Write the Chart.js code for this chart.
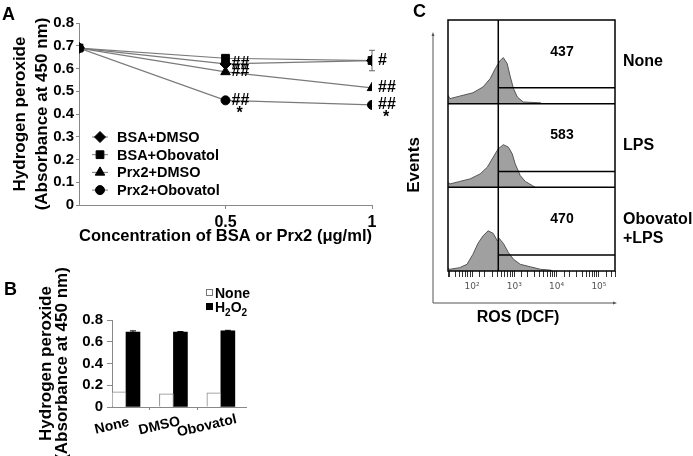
<!DOCTYPE html>
<html>
<head>
<meta charset="utf-8">
<script src="https://cdn.jsdelivr.net/npm/chart.js@4.4.1/dist/chart.umd.min.js"></script>
<style>
  body { margin: 0; background: #fff; width: 693px; height: 456px; position: relative; overflow: hidden;
         font-family: "Liberation Sans", Arial, sans-serif; }
  canvas { position: absolute; }
  .panel { position: absolute; font-weight: bold; font-size: 18px; line-height: 18px; }
</style>
</head>
<body>
<canvas id="chartA" width="400" height="250" style="left:0;top:0"></canvas>
<canvas id="chartB" width="260" height="201" style="left:0;top:255px"></canvas>
<canvas id="chartC" width="313" height="340" style="left:380px;top:0"></canvas>
<div class="panel" style="left:2px;top:5px">A</div>
<div class="panel" style="left:4px;top:280px">B</div>
<div class="panel" style="left:413px;top:2px">C</div>
<script>
// ---- panel A : H2O2 vs protein concentration
const conc = [0, 0.5, 1];
const bsaDmso = [0.69, 0.62, 0.635];
const bsaObovatol = [0.69, 0.645, 0.635];
const prx2Dmso = [0.69, 0.585, 0.515];
const prx2Obovatol = [0.69, 0.46, 0.44];
const bsaObovatolErr = [0, 0, 0.045];
const seriesNames = ['BSA+DMSO', 'BSA+Obovatol', 'Prx2+DMSO', 'Prx2+Obovatol'];
const seriesMarkers = ['rectRot', 'rect', 'triangle', 'circle'];
const seriesRadius = [5.5, 5.5, 5.5, 4.5];
const sigMarks = [
  { series: 0, point: 1, hash: '##', star: false },
  { series: 2, point: 1, hash: '##', star: false },
  { series: 3, point: 1, hash: '##', star: true },
  { series: 1, point: 2, hash: '#', star: false },
  { series: 2, point: 2, hash: '##', star: false },
  { series: 3, point: 2, hash: '##', star: true }
];

// ---- panel B : control bars
const groups = ['None', 'DMSO', 'Obovatol'];
const noneVals = [0.14, 0.12, 0.13];
const h2o2Vals = [0.69, 0.69, 0.70];
const h2o2Err = [0.01, 0.004, 0.005];

// ---- panel C : DCF histograms (intensity, % of panel height)
const noneX = [27, 30, 51, 105, 182, 269, 355, 468, 550, 676, 794, 955, 1175, 1622, 4169, 4467];
const noneY = [10, 6, 9, 13, 20, 30, 42, 52, 55, 48, 33, 18, 8, 2, 1, 0];
const lpsX = [27, 30, 51, 89, 155, 229, 316, 417, 550, 724, 891, 1047, 1380, 1820, 2692, 3162];
const lpsY = [6, 4, 7, 10, 16, 24, 36, 46, 51, 48, 40, 28, 14, 7, 2, 0];
const oboX = [27, 30, 51, 76, 105, 138, 182, 240, 316, 398, 437, 550, 724, 955, 1380, 2399, 4169, 7244, 8000];
const oboY = [3, 2, 4, 8, 20, 33, 42, 48, 45, 36, 39, 33, 22, 14, 8, 5, 2, 1, 0];
const sampleNames = ['None', 'LPS', ['Obovatol', '+LPS']];
const gateCounts = ['437', '583', '470'];
const gateStart = 417;
const gateLevel = 19;

Chart.defaults.font.family = '"Liberation Sans", Arial, Helvetica, sans-serif';
Chart.defaults.font.weight = 'bold';
Chart.defaults.color = '#000';
Chart.defaults.animation = false;
Chart.defaults.plugins.legend.display = false;
Chart.defaults.plugins.tooltip.enabled = false;

const FONT = '"Liberation Sans", Arial, sans-serif';

function toXY(xs, ys) {
  return xs.map((x, i) => ({ x: x, y: ys[i] }));
}

// ================= A =================
const seriesA = [bsaDmso, bsaObovatol, prx2Dmso, prx2Obovatol];

const annotA = {
  id: 'annotA',
  beforeDatasetsDraw(chart) {
    const { ctx, scales: { x, y } } = chart;
    ctx.save();
    ctx.strokeStyle = '#666';
    ctx.lineWidth = 1;
    bsaObovatolErr.forEach((e, i) => {
      if (!e) return;
      const px = x.getPixelForValue(conc[i]);
      const t = y.getPixelForValue(bsaObovatol[i] + e);
      const b = y.getPixelForValue(bsaObovatol[i] - e);
      ctx.beginPath();
      ctx.moveTo(px, t); ctx.lineTo(px, b);
      ctx.moveTo(px - 3, t); ctx.lineTo(px + 3, t);
      ctx.moveTo(px - 3, b); ctx.lineTo(px + 3, b);
      ctx.stroke();
    });
    ctx.restore();
  },
  afterDatasetsDraw(chart) {
    const { ctx, chartArea } = chart;
    ctx.save();
    ctx.fillStyle = '#000';
    ctx.textBaseline = 'middle';
    ctx.font = 'bold 16px ' + FONT;
    sigMarks.forEach(m => {
      const pt = chart.getDatasetMeta(m.series).data[m.point];
      ctx.textAlign = 'left';
      ctx.fillText(m.hash, pt.x + 6, pt.y);
      if (m.star) {
        ctx.textAlign = 'center';
        ctx.fillText('*', pt.x + 14, pt.y + 13);
      }
    });
    // legend inside plot
    ctx.font = 'bold 14.5px ' + FONT;
    ctx.textAlign = 'left';
    seriesNames.forEach((name, i) => {
      const ly = chartArea.top + 114 + i * 17.7;
      const lx = chartArea.left + 21;
      ctx.strokeStyle = '#777';
      ctx.lineWidth = 1;
      ctx.beginPath();
      ctx.moveTo(lx - 8, ly); ctx.lineTo(lx + 8, ly);
      ctx.stroke();
      ctx.fillStyle = '#000';
      ctx.strokeStyle = '#000';
      Chart.helpers.drawPoint(ctx, { pointStyle: seriesMarkers[i], radius: seriesRadius[i], rotation: 0, borderWidth: 1 }, lx, ly);
      ctx.fillStyle = '#000';
      ctx.fillText(name, lx + 17, ly + 1);
    });
    ctx.restore();
  }
};

new Chart(document.getElementById('chartA'), {
  type: 'line',
  data: {
    datasets: seriesA.map((vals, i) => ({
      label: seriesNames[i],
      data: toXY(conc, vals),
      borderColor: '#7a7a7a',
      borderWidth: 1.2,
      pointStyle: seriesMarkers[i],
      pointRadius: seriesRadius[i],
      pointBackgroundColor: '#000',
      pointBorderColor: '#000',
      pointBorderWidth: 1,
      fill: false,
      tension: 0
    }))
  },
  options: {
    responsive: false,
    layout: { padding: { left: 0, top: 23, right: 28, bottom: 0 } },
    scales: {
      x: {
        type: 'linear', min: 0, max: 1,
        afterBuildTicks: s => { s.ticks = [{ value: 0.5 }, { value: 1 }]; },
        ticks: { font: { size: 16, weight: 'bold' }, padding: 4, maxRotation: 0, callback: v => String(v) },
        grid: { drawOnChartArea: false, tickLength: 4, color: '#888' },
        border: { color: '#888' },
        title: { display: true, text: 'Concentration of BSA or Prx2 (μg/ml)', font: { size: 17, weight: 'bold' }, padding: { top: 0, bottom: 3 } },
        afterFit: s => { s.height = 45; }
      },
      y: {
        min: 0, max: 0.8,
        ticks: { stepSize: 0.1, font: { size: 15, weight: 'bold' }, padding: 2 },
        grid: { drawOnChartArea: false, tickLength: 3, color: '#888' },
        border: { color: '#888' },
        title: { display: true, text: ['Hydrogen peroxide', '(Absorbance at 450 nm)'], font: { size: 17, weight: 'bold', lineHeight: 1.3 }, padding: { top: 9, bottom: 0 } },
        afterFit: s => { s.width = 79; }
      }
    }
  },
  plugins: [annotA]
});

// ================= B =================
const annotB = {
  id: 'annotB',
  afterDatasetsDraw(chart) {
    const { ctx, scales: { x, y } } = chart;
    ctx.save();
    // error caps on H2O2 bars
    ctx.strokeStyle = '#000';
    ctx.lineWidth = 1;
    chart.getDatasetMeta(1).data.forEach((bar, i) => {
      const t = y.getPixelForValue(h2o2Vals[i] + h2o2Err[i]);
      ctx.beginPath();
      ctx.moveTo(bar.x, bar.y); ctx.lineTo(bar.x, t);
      ctx.moveTo(bar.x - 3, t); ctx.lineTo(bar.x + 3, t);
      ctx.stroke();
    });
    // slanted group labels
    ctx.fillStyle = '#000';
    ctx.font = 'bold 14px ' + FONT;
    ctx.textAlign = 'center';
    ctx.textBaseline = 'middle';
    groups.forEach((g, i) => {
      ctx.save();
      ctx.translate(x.getPixelForValue(i + 1) - 14, y.bottom + 19);
      ctx.rotate(-13 * Math.PI / 180);
      ctx.fillText(g, 0, 0);
      ctx.restore();
    });
    // legend
    ctx.fillStyle = '#fff';
    ctx.strokeStyle = '#777';
    ctx.fillRect(206.5, 34.5, 6, 6);
    ctx.strokeRect(206.5, 34.5, 6, 6);
    ctx.fillStyle = '#000';
    ctx.fillRect(206, 48, 7, 7);
    ctx.textAlign = 'left';
    ctx.textBaseline = 'alphabetic';
    ctx.font = 'bold 14px ' + FONT;
    ctx.fillText('None', 215, 43);
    let hx = 215;
    const parts = [['H', 14, 0], ['2', 10, 4], ['O', 14, 0], ['2', 10, 4]];
    parts.forEach(p => {
      ctx.font = 'bold ' + p[1] + 'px ' + FONT;
      ctx.fillText(p[0], hx, 57 + p[2]);
      hx += ctx.measureText(p[0]).width;
    });
    ctx.restore();
  }
};

new Chart(document.getElementById('chartB'), {
  type: 'bar',
  data: {
    datasets: [
      { label: 'None', data: toXY([1, 2, 3], noneVals), backgroundColor: '#fff', borderColor: '#888', borderWidth: 1,
        barThickness: 14 },
      { label: 'H₂O₂', data: toXY([1, 2, 3], h2o2Vals), backgroundColor: '#000', borderColor: '#000', borderWidth: 0,
        barThickness: 14 }
    ]
  },
  options: {
    responsive: false,
    layout: { padding: { left: 0, top: 65, right: 14, bottom: 4 } },
    scales: {
      x: {
        type: 'linear', min: 0.705, max: 3.53, offset: false,
        afterBuildTicks: s => { s.ticks = [1.5, 2.5].map(v => ({ value: v })); },
        ticks: { display: false },
        grid: { drawOnChartArea: false, offset: false, tickLength: 3, color: '#888' },
        border: { color: '#888' },
        afterFit: s => { s.height = 45; }
      },
      y: {
        min: 0, max: 0.8,
        ticks: { stepSize: 0.2, font: { size: 15, weight: 'bold' }, padding: 4 },
        grid: { drawOnChartArea: false, tickLength: 5, color: '#888' },
        border: { color: '#888' },
        title: { display: true, text: ['Hydrogen peroxide', '(Absorbance at 450 nm)'], font: { size: 17, weight: 'bold', lineHeight: 0.95 }, padding: { top: 38, bottom: 0 } },
        afterFit: s => { s.width = 112; }
      }
    }
  },
  plugins: [annotB]
});

// ================= C =================
const supers = ['⁰', '¹', '²', '³', '⁴', '⁵', '⁶'];
const yIds = ['yTop', 'yMid', 'yBot'];

const annotC = {
  id: 'annotC',
  afterDatasetsDraw(chart) {
    const { ctx, chartArea: a, scales } = chart;
    ctx.save();
    ctx.strokeStyle = '#000';
    ctx.lineWidth = 1.5;
    ctx.strokeRect(a.left, a.top, a.right - a.left, a.bottom - a.top);
    const gx = scales.x.getPixelForValue(gateStart);
    ctx.beginPath();
    yIds.forEach((id, i) => {
      const s = scales[id];
      if (i < 2) {
        const by = s.getPixelForValue(0);
        ctx.moveTo(a.left, by); ctx.lineTo(a.right, by);
      }
      const gy = s.getPixelForValue(gateLevel);
      ctx.moveTo(gx, gy); ctx.lineTo(a.right, gy);
    });
    ctx.moveTo(gx, a.top); ctx.lineTo(gx, a.bottom);
    ctx.stroke();

    ctx.fillStyle = '#000';
    ctx.textBaseline = 'middle';
    ctx.textAlign = 'center';
    ctx.font = 'bold 14px ' + FONT;
    yIds.forEach((id, i) => {
      ctx.fillText(gateCounts[i], a.left + 114, scales[id].getPixelForValue(62));
    });

    ctx.textAlign = 'left';
    ctx.font = 'bold 16px ' + FONT;
    sampleNames.forEach((nm, i) => {
      const cy = scales[yIds[i]].getPixelForValue(50);
      const lines = Array.isArray(nm) ? nm : [nm];
      lines.forEach((t, j) => ctx.fillText(t, a.right + 8, cy + (j - (lines.length - 1) / 2) * 19));
    });

    // outer event / intensity axes with arrows
    const ax = a.left - 15, ay = a.bottom + 32;
    ctx.strokeStyle = '#555';
    ctx.fillStyle = '#555';
    ctx.lineWidth = 1;
    ctx.beginPath();
    ctx.moveTo(ax, ay); ctx.lineTo(ax, a.top + 14);
    ctx.moveTo(ax, ay); ctx.lineTo(a.right, ay);
    ctx.stroke();
    ctx.beginPath();
    ctx.moveTo(ax, a.top + 12); ctx.lineTo(ax - 1.5, a.top + 16); ctx.lineTo(ax + 1.5, a.top + 16); ctx.closePath();
    ctx.moveTo(a.right + 2, ay); ctx.lineTo(a.right - 2, ay - 1.5); ctx.lineTo(a.right - 2, ay + 1.5); ctx.closePath();
    ctx.fill();

    ctx.fillStyle = '#000';
    ctx.font = 'bold 16px ' + FONT;
    ctx.textAlign = 'center';
    ctx.fillText('ROS (DCF)', a.left + 70, ay + 15);
    ctx.save();
    ctx.translate(a.left - 34, 165);
    ctx.rotate(-Math.PI / 2);
    ctx.font = 'bold 17px ' + FONT;
    ctx.fillText('Events', 0, 0);
    ctx.restore();
    ctx.restore();
  }
};

const histStyle = { borderColor: '#555', borderWidth: 1, backgroundColor: '#a0a0a0', fill: 'origin', pointRadius: 0, tension: 0 };

new Chart(document.getElementById('chartC'), {
  type: 'line',
  data: {
    datasets: [
      Object.assign({ label: 'None', data: toXY(noneX, noneY), yAxisID: 'yTop' }, histStyle),
      Object.assign({ label: 'LPS', data: toXY(lpsX, lpsY), yAxisID: 'yMid' }, histStyle),
      Object.assign({ label: 'Obovatol+LPS', data: toXY(oboX, oboY), yAxisID: 'yBot' }, histStyle)
    ]
  },
  options: {
    responsive: false,
    layout: { padding: { left: 68, top: 20, right: 78, bottom: 39 } },
    scales: {
      x: {
        type: 'logarithmic', min: 27, max: 240000, position: 'bottom',
        ticks: {
          autoSkip: false, maxRotation: 0, padding: 4, color: '#555',
          font: { family: '"DejaVu Sans", sans-serif', size: 9, weight: 'normal' },
          callback: v => {
            const e = Math.round(Math.log10(v));
            return Math.abs(v - Math.pow(10, e)) < 1e-6 * v ? '10' + supers[e] : '';
          }
        },
        grid: { drawOnChartArea: false, tickLength: 6, color: '#333' },
        border: { display: false },
        afterFit: s => { s.height = 30; }
      },
      yTop: { display: false, min: -200, max: 100 },
      yMid: { display: false, min: -100, max: 200 },
      yBot: { display: false, min: 0, max: 300 }
    }
  },
  plugins: [annotC]
});
</script>
</body>
</html>
